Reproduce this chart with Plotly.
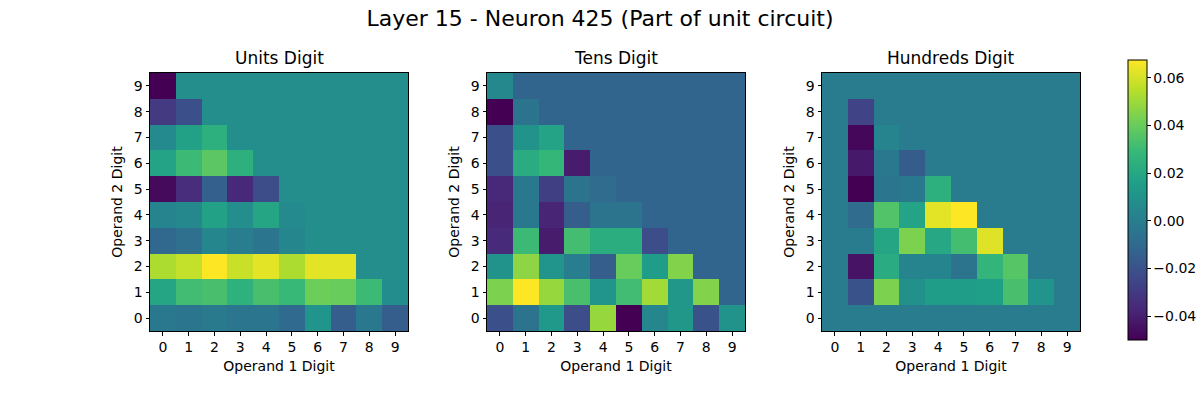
import plotly.graph_objects as go

digits = list(range(10))

# rows = Operand 2 digit (0..9), columns = Operand 1 digit (0..9)
units = [
    [-0.003, -0.004, -0.002, -0.004, -0.004, -0.010, 0.011, -0.015, -0.003, -0.015],
    [0.019, 0.031, 0.033, 0.025, 0.033, 0.029, 0.041, 0.040, 0.030, 0.007],
    [0.053, 0.057, 0.0675, 0.058, 0.063, 0.053, 0.063, 0.063, 0.008, 0.008],
    [-0.011, -0.007, 0.004, 0.000, -0.004, 0.004, 0.008, 0.008, 0.008, 0.008],
    [0.003, 0.005, 0.017, 0.008, 0.019, 0.006, 0.008, 0.008, 0.008, 0.008],
    [-0.047, -0.035, -0.014, -0.037, -0.022, 0.008, 0.008, 0.008, 0.008, 0.008],
    [0.018, 0.030, 0.037, 0.024, 0.008, 0.008, 0.008, 0.008, 0.008, 0.008],
    [0.006, 0.017, 0.024, 0.008, 0.008, 0.008, 0.008, 0.008, 0.008, 0.008],
    [-0.030, -0.021, 0.008, 0.008, 0.008, 0.008, 0.008, 0.008, 0.008, 0.008],
    [-0.050, 0.008, 0.008, 0.008, 0.008, 0.008, 0.008, 0.008, 0.008, 0.008],
]

tens = [
    [-0.021, -0.005, 0.013, -0.022, 0.049, -0.050, 0.004, 0.012, -0.020, 0.010],
    [0.044, 0.0675, 0.049, 0.033, 0.011, 0.031, 0.051, 0.012, 0.045, -0.012],
    [0.010, 0.047, 0.011, 0.000, -0.015, 0.040, 0.015, 0.045, -0.012, -0.012],
    [-0.036, 0.030, -0.041, 0.032, 0.023, 0.023, -0.022, -0.012, -0.012, -0.012],
    [-0.038, -0.003, -0.038, -0.015, -0.005, -0.005, -0.012, -0.012, -0.012, -0.012],
    [-0.037, -0.003, -0.028, -0.005, -0.009, -0.012, -0.012, -0.012, -0.012, -0.012],
    [-0.021, 0.022, 0.028, -0.041, -0.012, -0.012, -0.012, -0.012, -0.012, -0.012],
    [-0.021, 0.010, 0.018, -0.012, -0.012, -0.012, -0.012, -0.012, -0.012, -0.012],
    [-0.050, -0.005, -0.012, -0.012, -0.012, -0.012, -0.012, -0.012, -0.012, -0.012],
    [0.005, -0.012, -0.012, -0.012, -0.012, -0.012, -0.012, -0.012, -0.012, -0.012],
]

hundreds = [
    [-0.001] * 10,
    [-0.001, -0.020, 0.044, 0.009, 0.015, 0.015, 0.016, 0.033, 0.011, -0.001],
    [-0.001, -0.044, 0.022, 0.003, 0.003, -0.005, 0.027, 0.036, -0.001, -0.001],
    [-0.001, -0.001, 0.019, 0.044, 0.020, 0.032, 0.062, -0.001, -0.001, -0.001],
    [-0.001, -0.009, 0.035, 0.018, 0.063, 0.0675, -0.001, -0.001, -0.001, -0.001],
    [-0.001, -0.050, -0.004, -0.003, 0.024, -0.001, -0.001, -0.001, -0.001, -0.001],
    [-0.001, -0.042, -0.003, -0.016, -0.001, -0.001, -0.001, -0.001, -0.001, -0.001],
    [-0.001, -0.048, 0.003, -0.001, -0.001, -0.001, -0.001, -0.001, -0.001, -0.001],
    [-0.001, -0.026, -0.001, -0.001, -0.001, -0.001, -0.001, -0.001, -0.001, -0.001],
    [-0.001] * 10,
]

panels = [("Units Digit", units), ("Tens Digit", tens), ("Hundreds Digit", hundreds)]
x_domains = [[150/1200, 408/1200], [487/1200, 745/1200], [822/1200, 1080/1200]]
y_domain = [1 - 331/400, 1 - 73/400]
zmin, zmax = -0.050, 0.0675

font = "DejaVu Sans"
fig = go.Figure()

for i, (title, z) in enumerate(panels):
    n = "" if i == 0 else str(i + 1)
    fig.add_trace(go.Heatmap(
        x=digits, y=digits, z=z,
        colorscale="Viridis", zmin=zmin, zmax=zmax,
        xaxis="x" + n, yaxis="y" + n,
        showscale=(i == 2),
        colorbar=dict(
            x=1128/1200, xanchor="left", y=0.5, yanchor="middle",
            len=280/400, lenmode="fraction", thickness=19, xpad=0, ypad=0,
            outlinewidth=1, outlinecolor="black",
            ticks="outside", ticklen=3.5, tickwidth=1, tickcolor="black",
            tickvals=[-0.04, -0.02, 0.0, 0.02, 0.04, 0.06], tickformat=".2f",
            tickfont=dict(size=14, color="black"),
        ),
    ))
    axis_common = dict(
        tickvals=digits, range=[-0.5, 9.5], showgrid=False, zeroline=False,
        showline=True, linecolor="black", linewidth=1, mirror=True,
        ticks="outside", ticklen=3.5, tickcolor="black",
        tickfont=dict(size=14, color="black"),
    )
    fig.layout["xaxis" + n] = dict(
        axis_common, domain=x_domains[i], anchor="y" + n,
        title=dict(text="Operand 1 Digit", font=dict(size=14, color="black"), standoff=6),
    )
    fig.layout["yaxis" + n] = dict(
        axis_common, domain=y_domain, anchor="x" + n,
        title=dict(text="Operand 2 Digit", font=dict(size=14, color="black"), standoff=7),
    )
    fig.add_annotation(
        text=title, x=sum(x_domains[i]) / 2, y=y_domain[1], xref="paper", yref="paper",
        xanchor="center", yanchor="bottom", yshift=3, showarrow=False,
        font=dict(size=17, color="black"),
    )

fig.update_layout(
    width=1200, height=400,
    margin=dict(l=0, r=0, t=0, b=0),
    paper_bgcolor="white", plot_bgcolor="white",
    font=dict(family=font, color="black"),
    title=dict(text="Layer 15 - Neuron 425 (Part of unit circuit)", x=0.5, xanchor="center",
               y=1 - 18/400, yanchor="middle", font=dict(size=22, color="black")),
)

fig.write_html("out.html", config={"displayModeBar": False},
               post_script="document.body.style.margin='0';")
